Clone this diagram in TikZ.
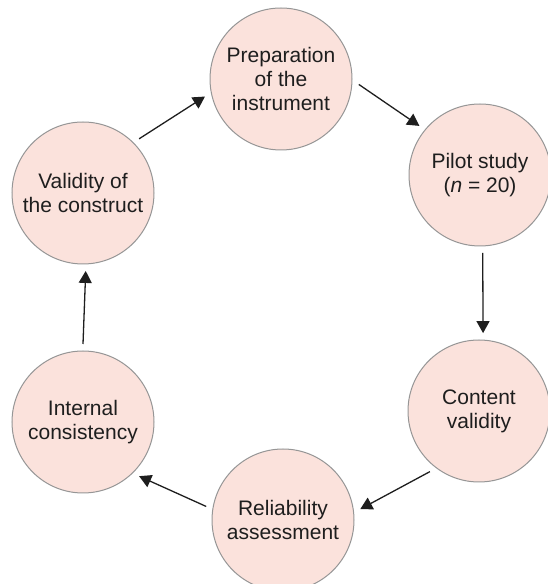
\documentclass[tikz,border=0pt]{standalone}
\usepackage{fontspec}
\setmainfont{Liberation Sans}
\usetikzlibrary{arrows.meta}
\definecolor{circfill}{RGB}{251,226,220}
\definecolor{circline}{RGB}{150,150,150}
\definecolor{ink}{RGB}{30,30,30}
\begin{document}
\begin{tikzpicture}[x=1pt,y=1pt,
  stage/.style={circle, draw=circline, line width=1pt, fill=circfill,
    minimum size=142pt, inner sep=0pt, outer sep=7pt, align=center,
    text=ink, font=\fontsize{21}{24}\selectfont},
  flow/.style={draw=ink, line width=1.3pt, -{Triangle[width=13pt,length=12pt]}}]
\useasboundingbox (0,0) rectangle (547,584);
\node[stage] (prep) at (281,505) {Preparation\\of the\\instrument};
\node[stage] (pilot) at (480,409) {Pilot study\\(\textit{n} = 20)};
\node[stage] (content) at (479,173) {Content\\validity};
\node[stage] (rel) at (283,64) {Reliability\\assessment};
\node[stage] (internal) at (83,162) {Internal\\consistency};
\node[stage] (valid) at (83,391) {Validity of\\the construct};
\draw[flow] (prep.-4.5) -- (pilot.141.5);
\draw[flow] (pilot.-88) -- (content.87);
\draw[flow] (content.231) -- (rel.8.6);
\draw[flow] (rel.170.7) -- (internal.-44);
\draw[flow] (internal.90) -- (valid.-88.5);
\draw[flow] (valid.44.5) -- (prep.193);
\end{tikzpicture}
\end{document}
